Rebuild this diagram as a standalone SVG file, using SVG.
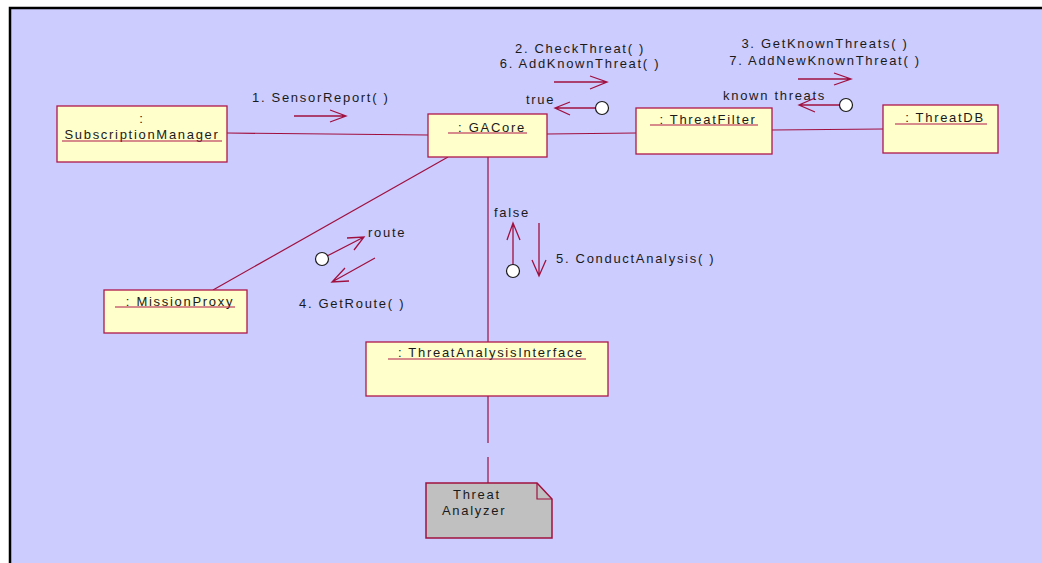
<svg xmlns="http://www.w3.org/2000/svg" width="1042" height="563" viewBox="0 0 1042 563">
<style>
text{font-family:"Liberation Sans",Arial,sans-serif;font-size:13px;letter-spacing:1.7px;fill:#1a1a1a}
.box{fill:#FFFFCC;stroke:#B0184A;stroke-width:1.3}
.ul{stroke:#B0184A;stroke-width:1.2}
.ln{stroke:#A0103F;stroke-width:1.2;fill:none}
.ar{stroke:#A0103F;stroke-width:1.3;fill:none}
.ci{fill:#fff;stroke:#1a1a1a;stroke-width:1.2}
.m{text-anchor:middle}
</style>
<rect x="0" y="0" width="1042" height="563" fill="#fff"/>
<rect x="10" y="8" width="1050" height="570" fill="#CCCCFF" stroke="#000" stroke-width="2.5"/>
<g id="connectors">
<line class="ln" x1="227" y1="133" x2="428" y2="135"/>
<line class="ln" x1="547" y1="134" x2="636" y2="133"/>
<line class="ln" x1="772" y1="130" x2="883" y2="129"/>
<line class="ln" x1="448" y1="157" x2="213" y2="290"/>
<line class="ln" x1="488" y1="157" x2="488" y2="342"/>
<line class="ln" x1="488" y1="396" x2="488" y2="443"/>
<line class="ln" x1="488" y1="457" x2="488" y2="483"/>
</g>
<g id="msg1">
<text x="252" y="102">1. SensorReport( )</text>
<path class="ar" d="M294 116H346M330 110L346 116L330 122"/>
</g>
<g id="msg2">
<text class="m" x="580" y="53">2. CheckThreat( )</text>
<text class="m" x="580" y="68">6. AddKnownThreat( )</text>
<path class="ar" d="M554 82H607M590 76L607 82L590 89"/>
<text x="526" y="104">true</text>
<path class="ar" d="M596 108H555M570 102L555 108L570 115"/>
<circle class="ci" cx="602" cy="108" r="6.5"/>
</g>
<g id="msg3">
<text class="m" x="825" y="48">3. GetKnownThreats( )</text>
<text class="m" x="825" y="65">7. AddNewKnownThreat( )</text>
<path class="ar" d="M798 79H851M834 73L851 79L834 85"/>
<text x="723" y="100">known threats</text>
<path class="ar" d="M840 105H799M815 98L799 105L815 112"/>
<circle class="ci" cx="846" cy="105" r="6.5"/>
</g>
<g id="msg4">
<path class="ar" d="M327 256L364 237M347 238L364 237L354 250"/>
<circle class="ci" cx="322" cy="259" r="6.5"/>
<text x="368" y="237">route</text>
<path class="ar" d="M375 258L332 282M345 268L332 282L349 281"/>
<text x="299" y="308">4. GetRoute( )</text>
</g>
<g id="msg5">
<path class="ar" d="M513 265V223M507 240L513 223L520 240"/>
<circle class="ci" cx="513" cy="271" r="6.5"/>
<text x="494" y="217">false</text>
<path class="ar" d="M539 223V276M532 260L539 276L546 260"/>
<text x="556" y="263">5. ConductAnalysis( )</text>
</g>
<g id="SubscriptionManager">
<rect class="box" x="57" y="106" width="170" height="56"/>
<text class="m" x="142" y="123">:</text>
<text class="m" x="142" y="139">SubscriptionManager</text>
<line class="ul" x1="62" y1="141" x2="222" y2="141"/>
</g>
<g id="GACore">
<rect class="box" x="428" y="114" width="119" height="43"/>
<text class="m" x="492" y="132">: GACore</text>
<line class="ul" x1="448" y1="133" x2="527" y2="133"/>
</g>
<g id="ThreatFilter">
<rect class="box" x="636" y="108" width="136" height="46"/>
<text class="m" x="708" y="124">: ThreatFilter</text>
<line class="ul" x1="650" y1="125" x2="758" y2="125"/>
</g>
<g id="ThreatDB">
<rect class="box" x="883" y="105" width="115" height="48"/>
<text class="m" x="945" y="122">: ThreatDB</text>
<line class="ul" x1="895" y1="124" x2="987" y2="124"/>
</g>
<g id="MissionProxy">
<rect class="box" x="104" y="290" width="143" height="43"/>
<text class="m" x="180" y="306">: MissionProxy</text>
<line class="ul" x1="115" y1="307" x2="235" y2="307"/>
</g>
<g id="ThreatAnalysisInterface">
<rect class="box" x="366" y="342" width="242" height="54"/>
<text class="m" x="491" y="357">: ThreatAnalysisInterface</text>
<line class="ul" x1="388" y1="359" x2="586" y2="359"/>
</g>
<g id="ThreatAnalyzer">
<path d="M426 483H537L552 499V538H426Z" fill="#C0C0C0" stroke="#A0103F" stroke-width="1.5"/>
<path d="M537 483V499H552" fill="none" stroke="#A0103F" stroke-width="1.2"/>
<text x="453" y="499">Threat</text>
<text x="442" y="515">Analyzer</text>
</g>
</svg>
